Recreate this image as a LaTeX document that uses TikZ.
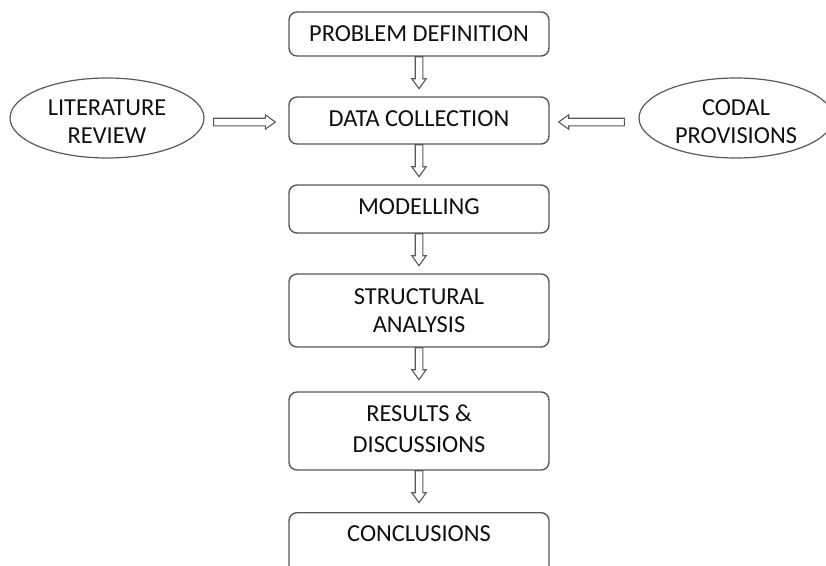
\documentclass[tikz,border=0pt]{standalone}
\usepackage{fontspec}
\setmainfont{Carlito}
\usetikzlibrary{calc,shapes.geometric}
\definecolor{lineg}{HTML}{595959}
\definecolor{txt}{HTML}{101010}
\tikzset{
  stepbox/.style={draw=lineg, line width=1.4pt, rounded corners=8pt, fill=white,
    minimum width=260pt, align=center, text=txt, inner sep=0pt,
    font=\fontsize{24.4}{28}\selectfont},
  oval/.style={draw=lineg, line width=1.2pt, ellipse, minimum width=194pt, minimum height=80pt,
    align=center, text=txt, inner sep=0pt, font=\fontsize{24.4}{28}\selectfont},
  blk/.style={draw=lineg, line width=1.1pt, fill=white, line join=miter,
    to path={let \p1=(\tikztostart), \p2=(\tikztotarget),
      \n1={atan2(\y2-\y1,\x2-\x1)}, \n2={veclen(\x2-\x1,\y2-\y1)}, \n3={\n2-10pt} in
      (\p1) ++(\n1+90:3.8pt) -- ++(\n1:\n3) -- ++(\n1+90:3.4pt) -- (\p2)
      -- ($(\p1)+(\n1:\n3)+(\n1-90:7.2pt)$) -- ++(\n1+90:3.4pt) -- ++(\n1+180:\n3) -- cycle}}
}
\begin{document}
\begin{tikzpicture}[x=1pt,y=-1pt]
\useasboundingbox (0,0) rectangle (826,565);
\clip (0,0) rectangle (826,565);
\node[stepbox, minimum height=44pt] (pd) at (419,34) {PROBLEM DEFINITION};
\node[stepbox, minimum height=47pt] (dc) at (419,120.5) {\raisebox{2pt}[\height][\depth]{DATA COLLECTION}};
\node[stepbox, minimum height=48pt] (mo) at (419,209) {\raisebox{2pt}[\height][\depth]{MODELLING}};
\node[stepbox, minimum height=73pt] (sa) at (419,310.5) {\raisebox{-2.5pt}[\height][\depth]{\begin{tabular}{@{}c@{}}STRUCTURAL\\[0.5pt]ANALYSIS\end{tabular}}};
\node[stepbox, minimum height=78pt] (rd) at (419,431) {\begin{tabular}{@{}c@{}}RESULTS \&\\[3pt]DISCUSSIONS\end{tabular}};
\node[stepbox, anchor=north, text height=25pt, text depth=40pt, inner ysep=4pt] (co) at (419,512) {CONCLUSIONS};
\node[oval] (lr) at (107,118) {\raisebox{-5.5pt}[\height][\depth]{\begin{tabular}{@{}c@{}}LITERATURE\\REVIEW\end{tabular}}};
\node[oval] (cp) at (736,118) {\raisebox{-5.5pt}[\height][\depth]{\begin{tabular}{@{}c@{}}CODAL\\PROVISIONS\end{tabular}}};
\draw[blk] (pd.south) to ($(pd.south)!32pt!(dc.north)$);
\draw[blk] (dc.south) to ($(dc.south)!32pt!(mo.north)$);
\draw[blk] (mo.south) to ($(mo.south)!32pt!(sa.north)$);
\draw[blk] (sa.south) to ($(sa.south)!32pt!(rd.north)$);
\draw[blk] (rd.south) to ($(rd.south)!32pt!(co.north)$);
\draw[blk] ($(lr.east |- dc.west)+(9pt,-1.5pt)$) to ($(dc.west)+(-13pt,-1.5pt)$);
\draw[blk] ($(cp.west |- dc.east)+(-14pt,-1.5pt)$) to ($(dc.east)+(9pt,-1.5pt)$);
\end{tikzpicture}
\end{document}
